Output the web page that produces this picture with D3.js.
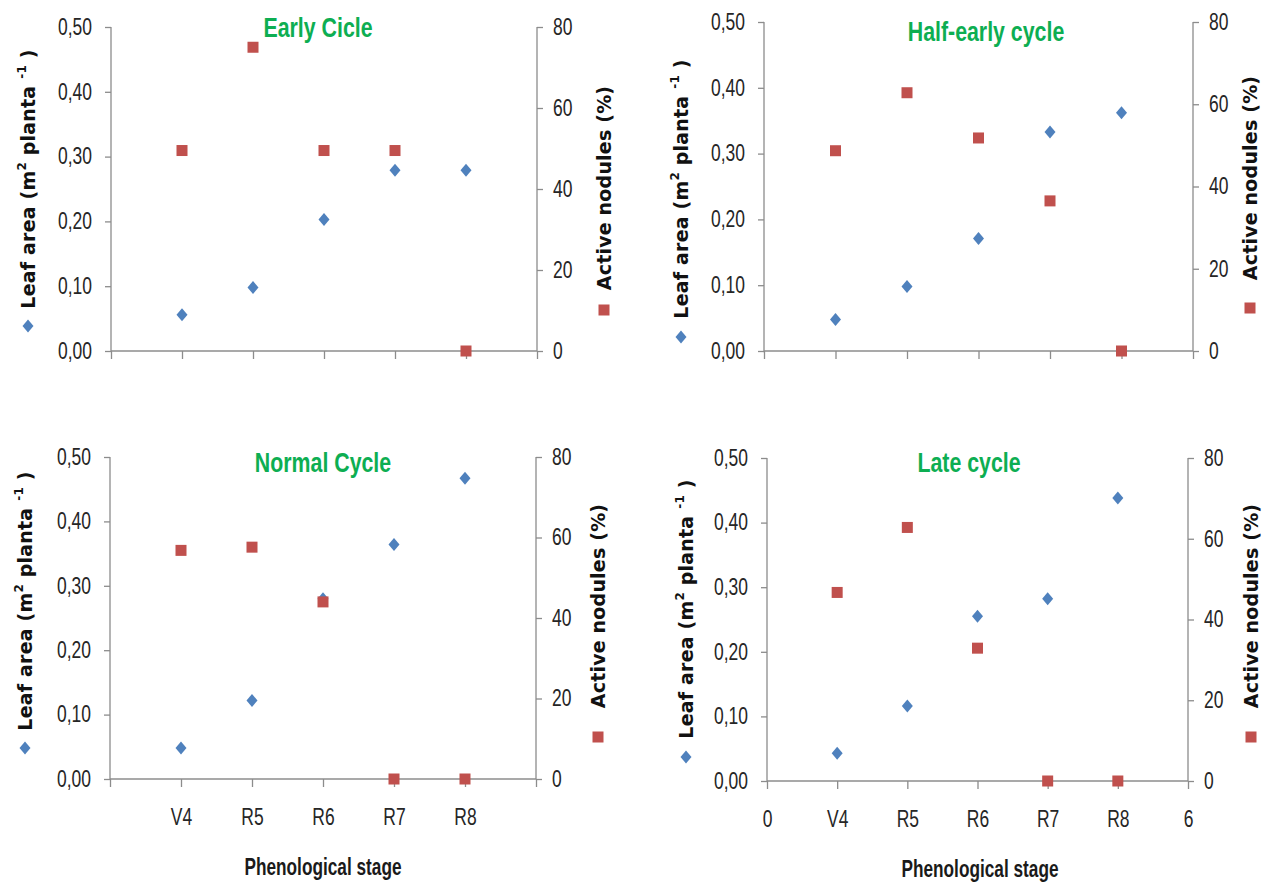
<!DOCTYPE html>
<html>
<head>
<meta charset="utf-8">
<script src="https://cdn.jsdelivr.net/npm/d3@7"></script>
<style>
  html, body { margin: 0; padding: 0; background: #ffffff; }
  svg { display: block; }
  .tick-label { font-family: "Liberation Sans", Arial, sans-serif; font-size: 23px; fill: #262626; }
  .cycle-title { font-family: "Liberation Sans", Arial, sans-serif; font-weight: bold; font-size: 27px; fill: #0DAE52; }
  .x-title { font-family: "Liberation Sans", Arial, sans-serif; font-weight: bold; font-size: 23px; fill: #1a1a1a; }
  .y-title { font-family: "DejaVu Sans", Verdana, sans-serif; font-weight: bold; font-size: 19px; letter-spacing: 0.2px; fill: #111; }
</style>
</head>
<body>
<svg id="chart" width="1270" height="882"></svg>
<script>
// Phenological stages on the x axis (positions 1..5 of a 0..6 axis)
const stages = ["V4", "R5", "R6", "R7", "R8"];
const cycleNames = ["Early Cicle", "Half-early cycle", "Normal Cycle", "Late cycle"];

// Leaf area, m2 per plant
const leafEarly     = [0.056, 0.098, 0.203, 0.279, 0.279];
const leafHalfEarly = [0.048, 0.098, 0.171, 0.333, 0.362];
const leafNormal    = [0.048, 0.122, 0.280, 0.364, 0.467];
const leafLate      = [0.043, 0.116, 0.255, 0.282, 0.438];

// Active nodules, %
const nodEarly      = [49.5, 75.0, 49.5, 49.5, 0];
const nodHalfEarly  = [48.7, 62.8, 51.8, 36.5, 0];
const nodNormal     = [56.8, 57.6, 44.0, 0, 0];
const nodLate       = [46.7, 62.8, 32.9, 0, 0];

// Axis ticks
const leafTicks = [0, 0.1, 0.2, 0.3, 0.4, 0.5];
const nodTicks  = [0, 20, 40, 60, 80];
const xTicks    = [0, 1, 2, 3, 4, 5, 6];

const leafSeries = [leafEarly, leafHalfEarly, leafNormal, leafLate];
const nodSeries  = [nodEarly, nodHalfEarly, nodNormal, nodLate];

// Panel frames: plot area edges, title placements and legend/axis-title anchors
const frames = [
  { x0: 111, x1: 537, yTop: 27,  yBot: 351, title: [318, 28],  xLabels: "none",
    lt: { x: 28,   cy: 179 }, lm: 326, rt: { x: 604,  cy: 188 }, rm: 310 },
  { x0: 764, x1: 1193, yTop: 22, yBot: 351, title: [986, 32],  xLabels: "none",
    lt: { x: 681,  cy: 189 }, lm: 337, rt: { x: 1250, cy: 178 }, rm: 308 },
  { x0: 110, x1: 536, yTop: 457, yBot: 779, title: [323, 463], xLabels: "stages",
    lt: { x: 25,   cy: 601 }, lm: 748, rt: { x: 598,  cy: 606 }, rm: 737, xt: [323, 867] },
  { x0: 767, x1: 1188, yTop: 458, yBot: 781, title: [969, 463], xLabels: "all",
    lt: { x: 686,  cy: 609 }, lm: 757, rt: { x: 1251, cy: 606 }, rm: 737, xt: [980, 869] }
];

const blue = "#4F81BD", red = "#C0504D", axisGray = "#8C8C8C";
const narrow = 0.76;   // condensed look for the tick labels
const commaLocale = d3.formatLocale({ decimal: ",", thousands: ".", grouping: [3], currency: ["", ""] });
const fmtLeaf = commaLocale.format(".2f");

const svg = d3.select("#chart");

function diamond(g, cx, cy) {
  const p = d3.path();
  p.moveTo(cx, cy - 6.5); p.lineTo(cx + 5.5, cy); p.lineTo(cx, cy + 6.5); p.lineTo(cx - 5.5, cy); p.closePath();
  g.append("path").attr("d", p.toString()).attr("fill", blue);
}
function square(g, cx, cy) {
  g.append("rect").attr("x", cx - 5.5).attr("y", cy - 5.5).attr("width", 11).attr("height", 11).attr("fill", red);
}

frames.forEach((f, i) => {
  const g = svg.append("g");
  const x = d3.scaleLinear().domain([0, 6]).range([f.x0, f.x1]);
  const yL = d3.scaleLinear().domain([0, 0.5]).range([f.yBot, f.yTop]);
  const yR = d3.scaleLinear().domain([0, 80]).range([f.yBot, f.yTop]);

  const la = g.append("g").attr("transform", `translate(${f.x0},0)`)
    .call(d3.axisLeft(yL).tickValues(leafTicks).tickSize(6).tickPadding(19).tickFormat(fmtLeaf));
  const ra = g.append("g").attr("transform", `translate(${f.x1},0)`)
    .call(d3.axisRight(yR).tickValues(nodTicks).tickSize(6).tickPadding(15).tickFormat(d3.format("d")));
  const xa = g.append("g").attr("transform", `translate(0,${f.yBot})`)
    .call(d3.axisBottom(x).tickValues(xTicks).tickSize(8).tickPadding(22)
      .tickFormat(d => {
        if (f.xLabels === "none") return "";
        if (d >= 1 && d <= stages.length) return stages[d - 1];
        return f.xLabels === "all" ? String(d) : "";
      }));

  [la, ra, xa].forEach(a => {
    a.select(".domain").remove();
    a.selectAll(".tick line").attr("stroke", axisGray).attr("stroke-width", 1.3);
    a.selectAll(".tick text").attr("class", "tick-label")
      .attr("font-size", null).attr("font-family", null).attr("fill", null)
      .attr("transform", `scale(${narrow},1)`);
  });
  g.append("line").attr("x1", f.x0).attr("x2", f.x0).attr("y1", f.yTop).attr("y2", f.yBot).attr("stroke", axisGray).attr("stroke-width", 1.3);
  g.append("line").attr("x1", f.x1).attr("x2", f.x1).attr("y1", f.yTop).attr("y2", f.yBot).attr("stroke", axisGray).attr("stroke-width", 1.3);
  g.append("line").attr("x1", f.x0).attr("x2", f.x1).attr("y1", f.yBot).attr("y2", f.yBot).attr("stroke", axisGray).attr("stroke-width", 1.3);

  // points: leaf area first, nodules on top
  leafSeries[i].forEach((v, k) => diamond(g, x(k + 1), yL(v)));
  nodSeries[i].forEach((v, k) => square(g, x(k + 1), yR(v)));

  // panel title
  g.append("text").attr("class", "cycle-title")
    .attr("transform", `translate(${f.title[0]},${f.title[1]}) scale(0.79,1)`)
    .attr("text-anchor", "middle").attr("dominant-baseline", "central")
    .text(cycleNames[i]);

  // left axis title with its legend marker
  const lt = g.append("text").attr("class", "y-title")
    .attr("transform", `translate(${f.lt.x},${f.lt.cy}) rotate(-90)`)
    .attr("text-anchor", "middle").attr("dominant-baseline", "central");
  lt.append("tspan").text("Leaf area (m");
  lt.append("tspan").attr("font-size", "12px").attr("dy", -6).text("2");
  lt.append("tspan").attr("dy", 6).text(" planta ");
  lt.append("tspan").attr("font-size", "12px").attr("dy", -6).text("-1");
  lt.append("tspan").attr("dy", 6).text(" )");
  diamond(g, f.lt.x, f.lm);

  // right axis title with its legend marker
  g.append("text").attr("class", "y-title")
    .attr("transform", `translate(${f.rt.x},${f.rt.cy}) rotate(-90)`)
    .attr("text-anchor", "middle").attr("dominant-baseline", "central")
    .text("Active nodules (%)");
  square(g, f.rt.x, f.rm);

  // x axis title
  if (f.xt) {
    g.append("text").attr("class", "x-title")
      .attr("transform", `translate(${f.xt[0]},${f.xt[1]}) scale(0.75,1)`)
      .attr("text-anchor", "middle").attr("dominant-baseline", "central")
      .text("Phenological stage");
  }
});
</script>
</body>
</html>
